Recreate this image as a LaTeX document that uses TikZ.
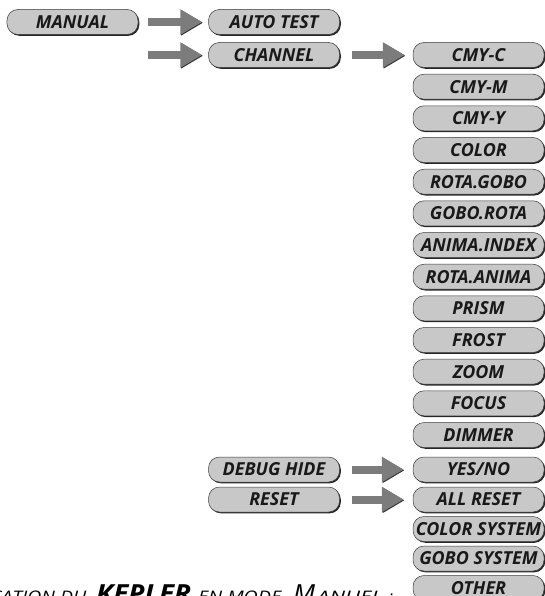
\documentclass[tikz,border=0pt]{standalone}
\usepackage{fontspec}
\usepackage{graphicx}
\setmainfont{Open Sans}
\definecolor{boxgray}{HTML}{C8C8C8}
\definecolor{arrowgray}{HTML}{7C7C7C}
\definecolor{edgegray}{HTML}{3A3A3A}
\usetikzlibrary{arrows.meta,shadows}

\tikzset{
  menubox/.style={draw=edgegray, line width=0.5bp, fill=boxgray, rounded corners=11bp,
    minimum width=131bp, minimum height=25bp, inner sep=0pt,
    font=\fontsize{18}{18}\selectfont\bfseries\itshape, text=black!90,
    drop shadow={shadow xshift=1.3bp, shadow yshift=-1.3bp, fill=black!85, opacity=1}},
  blockarrow/.style={preaction={draw=black!80, transform canvas={shift={(0.8bp,-0.8bp)}}},
    draw=arrowgray, line width=8bp, -{Triangle[length=22bp,width=24bp]}}
}

\begin{document}
\begin{tikzpicture}[x=1bp,y=-1bp]
  \useasboundingbox (0,0) rectangle (545,596);
  \clip (0,0) rectangle (545,596);
  % Caption, cut by the page edge
  \node[anchor=base west, inner sep=0pt] (caption) at (0,602)
    {\itshape\fontsize{16}{16}\selectfont
     \hspace*{-10bp}\resizebox{96bp}{\height}{CATION DU}\hspace{10bp}%
     \resizebox{95bp}{\height}{\bfseries\fontsize{25}{25}\selectfont KEPLER}\hspace{7bp}%
     \resizebox{83bp}{\height}{EN MODE}\hspace{12bp}%
     \resizebox{22bp}{\height}{\fontsize{25}{25}\selectfont M}\hspace{2bp}%
     \resizebox{65bp}{\height}{ANUEL}\hspace{7bp}:};
  % Left and middle menus
  \node[menubox] (manual) at (72.5,22) {MANUAL};
  \node[menubox] (autotest) at (274,22) {AUTO TEST};
  \node[menubox] (channel) at (274,55) {CHANNEL};
  \node[menubox] (debughide) at (274,469.5) {DEBUG HIDE};
  \node[menubox] (reset) at (274,499.5) {RESET};
  % Channel list
  \node[menubox] (cmyc) at (478.5,55) {CMY-C};
  \node[menubox] (cmym) at (478.5,86.7) {CMY-M};
  \node[menubox] (cmyy) at (478.5,118.3) {CMY-Y};
  \node[menubox] (color) at (478.5,150) {COLOR};
  \node[menubox] (rotagobo) at (478.5,181.7) {ROTA.GOBO};
  \node[menubox] (goborota) at (478.5,213.3) {GOBO.ROTA};
  \node[menubox] (animaindex) at (478.5,245) {ANIMA.INDEX};
  \node[menubox] (rotaanima) at (478.5,276.7) {ROTA.ANIMA};
  \node[menubox] (prism) at (478.5,308.3) {PRISM};
  \node[menubox] (frost) at (478.5,340) {FROST};
  \node[menubox] (zoom) at (478.5,371.7) {ZOOM};
  \node[menubox] (focus) at (478.5,403.3) {FOCUS};
  \node[menubox] (dimmer) at (478.5,435) {DIMMER};
  % Lower list
  \node[menubox] (yesno) at (478.5,469.5) {YES/NO};
  \node[menubox] (allreset) at (478.5,499.5) {ALL RESET};
  \node[menubox] (colorsystem) at (478.5,529) {COLOR SYSTEM};
  \node[menubox] (gobosystem) at (478.5,558.5) {GOBO SYSTEM};
  \node[menubox] (other) at (478.5,588) {OTHER};
  % Arrows
  \draw[blockarrow] ([xshift=10bp]manual.east) -- ([xshift=-6bp]autotest.west);
  \draw[blockarrow] ([xshift=10bp]manual.east |- channel.west) -- ([xshift=-6bp]channel.west);
  \draw[blockarrow] ([xshift=12bp]channel.east) -- ([xshift=-8bp]cmyc.west);
  \draw[blockarrow] ([xshift=12bp]debughide.east) -- ([xshift=-9bp]yesno.west);
  \draw[blockarrow] ([xshift=12bp]reset.east) -- ([xshift=-9bp]allreset.west);
\end{tikzpicture}
\end{document}
